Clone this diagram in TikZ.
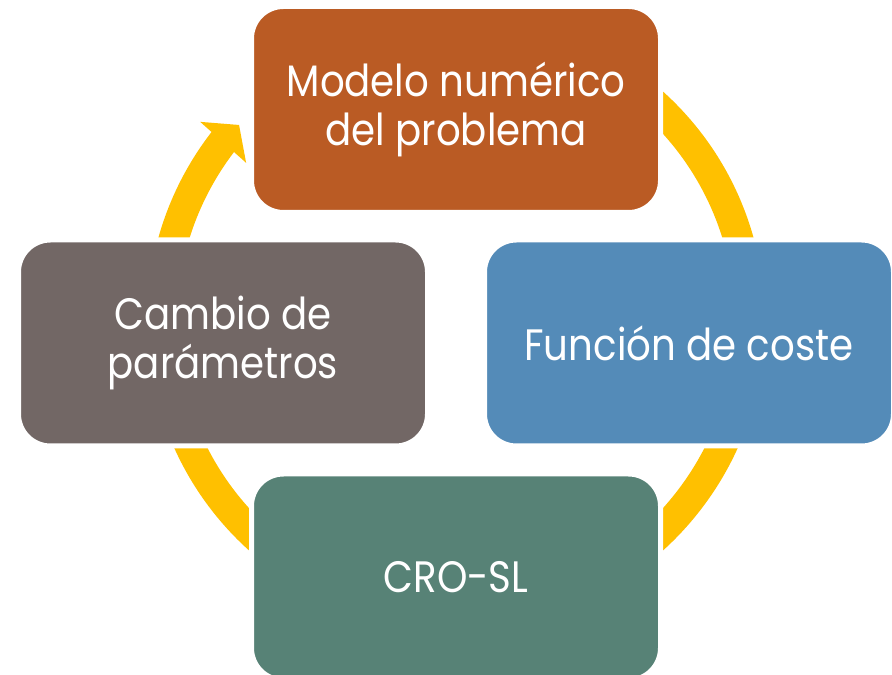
\documentclass[tikz,border=0pt]{standalone}
\usepackage{fontspec}
\setmainfont[FakeStretch=0.88]{Poppins}
\usetikzlibrary{calc}
\definecolor{ringc}{RGB}{255,192,0}
\definecolor{topc}{RGB}{186,91,36}
\definecolor{rightc}{RGB}{84,139,184}
\definecolor{bottomc}{RGB}{87,130,118}
\definecolor{leftc}{RGB}{114,103,101}
\begin{document}
\begin{tikzpicture}[x=1pt,y=1pt,
  box/.style={draw=white, line width=5pt, rounded corners=32pt,
    minimum width=409pt, minimum height=206pt, inner sep=0pt,
    text=white, align=center, font=\fontsize{44}{49}\selectfont},
  ringline/.style={draw=ringc, line width=30pt}]
\useasboundingbox (0,0) rectangle (892,675);
\clip (0,0) rectangle (892,675);
\coordinate (C) at (456,354);
% ring
\draw[ringline] (C) ++(142.2:294) arc[start angle=142.2, end angle=450, radius=294];
\path (C) ++(143:262.8) coordinate (b1)
      (C) ++(142.1:324.2) coordinate (b2)
      (C) ++(137.9:292.4) coordinate (tip);
\fill[ringc] (b1) -- (tip) -- (b2) -- cycle;
% boxes
\node[box, fill=topc] (model) at (456,565.5) {Modelo numérico\\del problema};
\node[box, fill=rightc] (coste) at (689,332) {Función de coste};
\node[box, fill=bottomc] (crosl) at (456,98) {CRO-SL};
\node[box, fill=leftc] (cambio) at (223,332) {Cambio de\\parámetros};
\end{tikzpicture}
\end{document}
